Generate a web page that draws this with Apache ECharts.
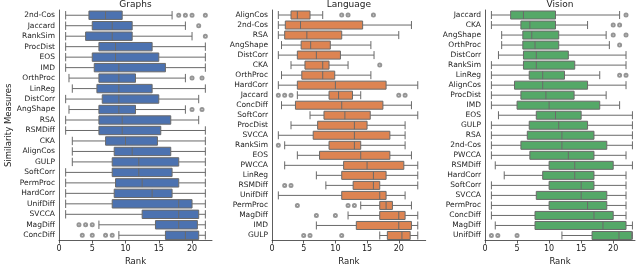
<!DOCTYPE html>
<html><head><meta charset="utf-8">
<script src="https://cdn.jsdelivr.net/npm/echarts@6/dist/echarts.min.js"></script>
<style>html,body{margin:0;padding:0;background:#fff}#c{width:640px;height:279px}</style>
</head><body><div id="c"></div>
<script>
// ---- Graphs ----
const graphsNames = ['2nd-Cos','Jaccard','RankSim','ProcDist','EOS','IMD','OrthProc','LinReg','DistCorr','AngShape','RSA','RSMDiff','CKA','AlignCos','GULP','SoftCorr','PermProc','HardCorr','UnifDiff','SVCCA','MagDiff','ConcDiff'];
// [whiskerLow, Q1, median, Q3, whiskerHigh]
const graphsBox = [
  [1,4.5,7,9.5,17],[1,5,8,11,19],[1,4,8,11,20],[1,6,8.5,14,22],[1,5,8.5,15,22],
  [1,5.3,9,16,22],[1.5,6,9,11.5,19],[2,5.7,9,14,22],[1,6.5,9,15,21],[1.5,6,9,11.5,19],
  [1,6,9.5,16.8,21],[1,6,9.5,15.3,22],[2,7,10,14.8,22],[2,8.3,11,16.8,22],[2,8,12,18,22],
  [1,8,12,17,22],[1,8.5,12.5,18,22],[1,8.3,14,17,22],[1,8,18,20,22],[1,12.5,18,21,22],
  [6,14.5,18,20.8,22],[9,16,19,21,22]
];
const graphsOutliers = [
  ['2nd-Cos',18],['2nd-Cos',19],['2nd-Cos',20],['2nd-Cos',22],['Jaccard',21],['RankSim',22],
  ['OrthProc',20],['OrthProc',21.5],['AngShape',20],['AngShape',21.5],
  ['MagDiff',3],['MagDiff',4],['MagDiff',5],['ConcDiff',3.5],['ConcDiff',5],['ConcDiff',7],['ConcDiff',8]
];
// ---- Language ----
const languageNames = ['AlignCos','2nd-Cos','RSA','AngShape','DistCorr','CKA','OrthProc','HardCorr','Jaccard','ConcDiff','SoftCorr','ProcDist','SVCCA','RankSim','EOS','PWCCA','LinReg','RSMDiff','UnifDiff','PermProc','MagDiff','IMD','GULP'];
const languageBox = [
  [1,3,4,6,8],[1,2.1,4.5,14.3,22],[1,2,5.5,11,20],[1.5,4.6,6.1,9.2,15.6],[1,4,7,10.8,16.1],
  [3,5.2,8,9,12],[1.5,4.7,8,9.9,15.6],[1,4,10,18,23],[4,9,10.5,12.7,14],[1.5,3.7,11,17.5,22],
  [6,8.2,11.5,15.5,23],[3,7.2,13,15,21],[1,6.5,13,18.6,21],[2,9,13,14,21],[4,7.5,14,18.6,22],
  [2,11.3,15,20.8,23],[7,11,16,18,23],[8.5,12.8,16,17,23],[1,11,17,18,21],[14,17,18,19,22],
  [12,17,20,21,23],[7,13.3,20,22,23],[17,18.2,20.5,21.8,23]
];
const languageOutliers = [
  ['AlignCos',11],['AlignCos',12],['AlignCos',16],['CKA',17],
  ['Jaccard',1],['Jaccard',2],['Jaccard',3],['Jaccard',20],['Jaccard',21],
  ['RankSim',1],['RSMDiff',2],['RSMDiff',3],['PermProc',4],['PermProc',12],['PermProc',13],
  ['MagDiff',7],['MagDiff',10],['GULP',5],['GULP',6],['GULP',11]
];
// ---- Vision ----
const visionNames = ['Jaccard','CKA','AngShape','OrthProc','DistCorr','RankSim','LinReg','AlignCos','ProcDist','IMD','EOS','GULP','RSA','2nd-Cos','PWCCA','RSMDiff','HardCorr','SoftCorr','SVCCA','PermProc','ConcDiff','MagDiff','UnifDiff'];
const visionBox = [
  [1,4,6,11,21],[1,5.6,7,11,16],[2.6,5.9,7.3,11.5,18.9],[2.6,5.9,7.8,11.5,19.4],[2.1,6,8,13,22],
  [1,6,8,14,22],[1,6.9,9,12.4,17.9],[1,4.6,9,16,22],[1,5.6,9.5,13.9,18.9],[1,5,10,17.9,21],
  [2.1,8,11,15,23],[1,6.9,11.5,16,23],[1,6.6,12,17,23],[1,5.6,12,19,23],[1,7,13,17,22],
  [1.6,10,14,20,23],[3,9,14,17,22],[1,10,15,17,22],[1,8,15,19,22],[1,10,16,19,22],
  [1,7.8,17,20,22],[1.6,7.8,18.4,22,23],[12,16.7,20.9,22.9,23]
];
const visionOutliers = [
  ['Jaccard',22],['CKA',20],['CKA',21],['AngShape',20],['AngShape',22],['OrthProc',21],
  ['LinReg',21],['LinReg',22],['UnifDiff',1],['UnifDiff',2],['UnifDiff',5]
];
const rankTicks = [0,5,10,15,20];

const panels = [
  {title:'Graphs', names:graphsNames, box:graphsBox, out:graphsOutliers, color:'#4c72b0', left:59, right:212, max:23},
  {title:'Language', names:languageNames, box:languageBox, out:languageOutliers, color:'#dd8452', left:272, right:425.7, max:24.25},
  {title:'Vision', names:visionNames, box:visionBox, out:visionOutliers, color:'#55a868', left:485, right:635, max:23.4}
];
const TOP = 10, BOTTOM = 38.5;
const font = 'DejaVu Sans';
const option = {
  animation:false,
  title: panels.map(p=>({text:p.title, left:(p.left+p.right)/2, top:0, padding:0, textAlign:'center',
    textStyle:{fontFamily:font, fontSize:9, fontWeight:'normal', color:'#222', lineHeight:10}})),
  grid: panels.map(p=>({left:p.left, width:p.right-p.left, top:TOP, bottom:BOTTOM, containLabel:false})),
  xAxis: panels.map((p,i)=>({gridIndex:i, type:'value', min:0, max:p.max, interval:5,
    name:'Rank', nameLocation:'middle', nameGap:17, nameTextStyle:{fontFamily:font, fontSize:8.5, color:'#222'},
    splitLine:{show:false},
    axisLine:{show:true, lineStyle:{color:'#333', width:0.8}},
    axisTick:{show:true, length:3, lineStyle:{color:'#333', width:0.8}, customValues:rankTicks},
    axisLabel:{fontFamily:font, fontSize:8, color:'#222', margin:4, customValues:rankTicks}})),
  yAxis: panels.map((p,i)=>({gridIndex:i, type:'category', data:p.names, inverse:true,
    name: i===0 ? 'Similarity Measures' : '', nameLocation:'middle', nameGap:43, nameRotate:90,
    nameTextStyle:{fontFamily:font, fontSize:8.5, color:'#222'},
    axisLine:{show:true, lineStyle:{color:'#333', width:0.8}},
    axisTick:{show:false}, splitLine:{show:false},
    axisLabel:{fontFamily:font, fontSize:7.5, color:'#222', margin:4, interval:0}})),
  series: []
};
panels.forEach((p,i)=>{
  option.series.push({type:'boxplot', xAxisIndex:i, yAxisIndex:i, data:p.box,
    boxWidth:['80%','80%'],
    itemStyle:{color:p.color, borderColor:'#6a6a6a', borderWidth:1},
    emphasis:{disabled:true}});
  option.series.push({type:'scatter', xAxisIndex:i, yAxisIndex:i,
    data:p.out.map(o=>[o[1], o[0]]), symbol:'emptyCircle', symbolSize:3,
    itemStyle:{color:'#7a7a7a', borderWidth:0.7}, emphasis:{disabled:true}});
});
const chart = echarts.init(document.getElementById('c'), null, {renderer:'canvas'});
chart.setOption(option);
</script>
</body></html>
